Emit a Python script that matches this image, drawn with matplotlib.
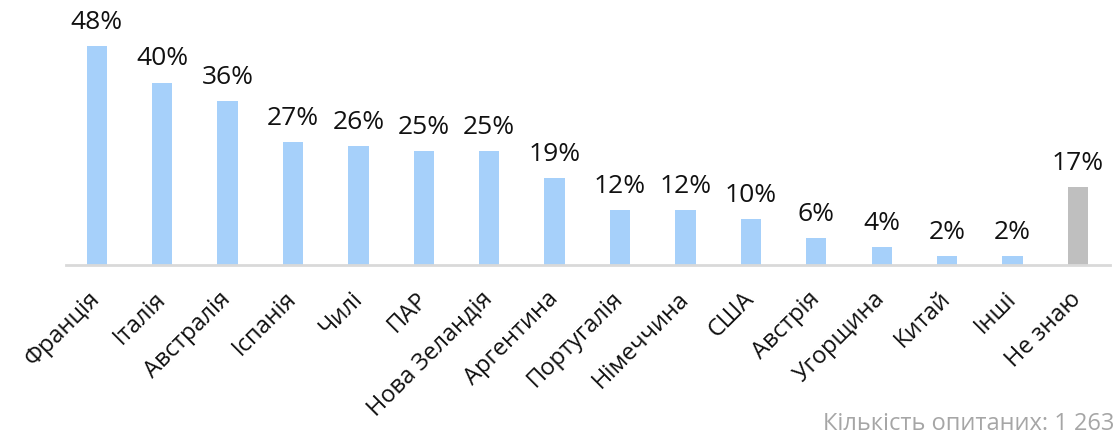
import matplotlib
matplotlib.use("Agg")
import matplotlib.pyplot as plt

categories = ["Франція", "Італія", "Австралія", "Іспанія", "Чилі", "ПАР", "Нова Зеландія",
              "Аргентина", "Португалія", "Німеччина", "США", "Австрія", "Угорщина",
              "Китай", "Інші", "Не знаю"]
values = [48, 40, 36, 27, 26, 25, 25, 19, 12, 12, 10, 6, 4, 2, 2, 17]
footer = "Кількість опитаних: 1 263"

FAM = ['Open Sans', 'DejaVu Sans']
blue = '#a6d0fa'
gray = '#bfbfbf'
colors = [blue] * (len(values) - 1) + [gray]

W, H = 1119, 436
fig = plt.figure(figsize=(W / 100, H / 100), dpi=100)
ax = fig.add_axes([66 / W, (H - 265) / H, (1110 - 66) / W, (265 - 10) / H])

x = list(range(len(categories)))
bars = ax.bar(x, values, width=0.31, color=colors, zorder=2)
ax.set_xlim(-0.47, len(categories) - 1 + 0.49)
ax.set_ylim(0, 255 / 4.56)

for xi, v in zip(x, values):
    ax.annotate(f"{v}%", (xi, v), xytext=(0, 8), textcoords='offset points',
                ha='center', va='bottom', fontsize=19, family=FAM, color='#111111')

for s in ['top', 'right', 'left']:
    ax.spines[s].set_visible(False)
ax.spines['bottom'].set_color('#d9d9d9')
ax.spines['bottom'].set_linewidth(2)
ax.set_yticks([])
ax.set_xticks(x)
ax.set_xticklabels(categories, rotation=45, ha='right', va='center', rotation_mode='anchor',
                   fontsize=17, family=FAM, color='#111111')
ax.tick_params(axis='x', length=0, pad=22)

fig.text(1114 / W, (H - 412) / H, footer, ha='right', va='top', fontsize=17,
         family=FAM, color='#a6a6a6')

fig.savefig("out.png", dpi=100)
